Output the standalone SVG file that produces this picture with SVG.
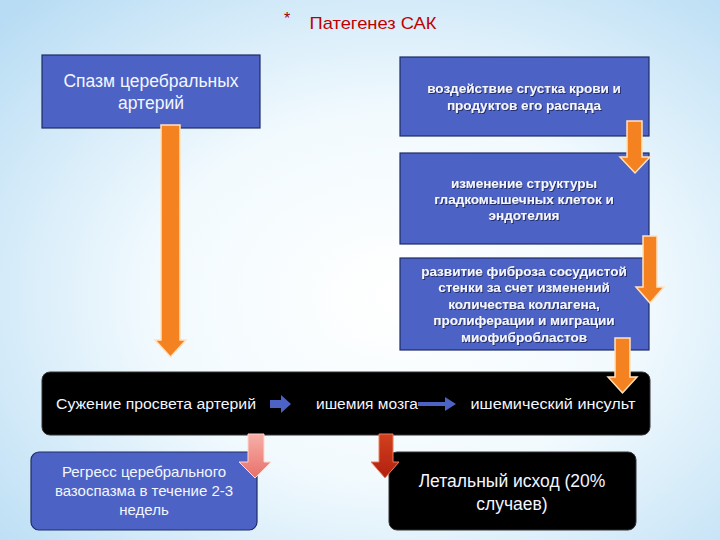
<svg xmlns="http://www.w3.org/2000/svg" width="720" height="540" viewBox="0 0 720 540">
<defs>
<radialGradient id="bg" cx="0.55" cy="0.55" r="0.75">
<stop offset="0" stop-color="#ffffff"/>
<stop offset="0.45" stop-color="#f2fafe"/>
<stop offset="1" stop-color="#b8dcf4"/>
</radialGradient>
<linearGradient id="pink" x1="0" y1="0" x2="0" y2="1">
<stop offset="0" stop-color="#f7b0a8"/>
<stop offset="1" stop-color="#e8706a"/>
</linearGradient>
<linearGradient id="red" x1="0" y1="0" x2="0" y2="1">
<stop offset="0" stop-color="#d2401e"/>
<stop offset="1" stop-color="#b0200e"/>
</linearGradient>
<filter id="sh" x="-5%" y="-5%" width="110%" height="120%">
<feDropShadow dx="1" dy="1" stdDeviation="0.6" flood-color="#1a2050" flood-opacity="0.8"/>
</filter>
</defs>
<style>
text{font-family:"Liberation Sans","DejaVu Sans",sans-serif;fill:#f4f6ff;text-anchor:middle}
.blue{fill:#4c62c4;stroke:#1e2c66;stroke-width:1.2}
.black{fill:#000000;stroke:#333;stroke-width:1}
.orange{fill:#f58220;stroke:#ffe2c0;stroke-width:1.5}
.small{font-size:13.5px;font-weight:bold}
.mid{font-size:15.5px}
.big{font-size:17.5px}
.low{font-size:15px}
.bararrow{fill:#4c62c4}
</style>
<rect width="720" height="540" fill="url(#bg)"/>

<g id="title">
<text x="287" y="24" style="font-size:16px;fill:#a00000">*</text>
<text x="373" y="29" style="font-size:17px;fill:#c00000" textLength="127" lengthAdjust="spacingAndGlyphs">Патегенез САК</text>
</g>

<g id="n1">
<rect class="blue" x="42" y="55" width="218" height="73"/>
<text class="big" x="151" y="87">Спазм церебральных</text>
<text class="big" x="151" y="109">артерий</text>
</g>

<g id="n2">
<rect class="blue" x="400" y="57" width="249" height="79"/>
<text class="small" x="524" y="93" filter="url(#sh)">воздействие сгустка крови и</text>
<text class="small" x="524" y="110" filter="url(#sh)">продуктов его распада</text>
</g>

<g id="n3">
<rect class="blue" x="400" y="153" width="249" height="91"/>
<text class="small" x="524" y="188" filter="url(#sh)">изменение структуры</text>
<text class="small" x="524" y="204" filter="url(#sh)">гладкомышечных клеток и</text>
<text class="small" x="524" y="220" filter="url(#sh)">эндотелия</text>
</g>

<g id="n4">
<rect class="blue" x="400" y="258" width="249" height="92"/>
<text class="small" x="524" y="276" filter="url(#sh)">развитие фиброза сосудистой</text>
<text class="small" x="524" y="292" filter="url(#sh)">стенки за счет изменений</text>
<text class="small" x="524" y="309" filter="url(#sh)">количества коллагена,</text>
<text class="small" x="524" y="325" filter="url(#sh)">пролиферации и миграции</text>
<text class="small" x="524" y="342" filter="url(#sh)">миофибробластов</text>
</g>

<g id="bar">
<rect class="black" x="42" y="372" width="608" height="63" rx="8"/>
<text class="mid" x="156" y="409" textLength="200" lengthAdjust="spacingAndGlyphs">Сужение просвета артерий</text>
<path class="bararrow" d="M270,400 H281 V395 L291,404 L281,413 V408 H270 Z"/>
<text class="mid" x="367" y="409" textLength="102" lengthAdjust="spacingAndGlyphs">ишемия мозга</text>
<path class="bararrow" d="M418,402 H445 V397 L456,404 L445,411 V406 H418 Z"/>
<text class="mid" x="553" y="409" textLength="165" lengthAdjust="spacingAndGlyphs">ишемический инсульт</text>
</g>

<g id="n5">
<rect class="blue" x="31" y="452" width="226" height="78" rx="8"/>
<text class="low" x="144" y="477">Регресс церебрального</text>
<text class="low" x="144" y="496">вазоспазма в течение 2-3</text>
<text class="low" x="144" y="515">недель</text>
</g>

<g id="n6">
<rect class="black" x="389" y="452" width="247" height="78" rx="8"/>
<text style="font-size:17.5px" x="512" y="487">Летальный исход (20%</text>
<text style="font-size:17.5px" x="512" y="510">случаев)</text>
</g>

<g id="connectors">
<path class="orange" d="M161,125 H180 V340 H186 L170.5,357 L155,340 H161 Z"/>
<path class="orange" d="M627,121 H642 V157 H650 L635,173 L620,157 H627 Z"/>
<path class="orange" d="M643,236 H657 V287 H664 L650,303 L636,287 H643 Z"/>
<path class="orange" d="M615,338 H630 V377 H637 L622.5,393 L608,377 H615 Z"/>
<path fill="url(#pink)" stroke="#ffd8d0" stroke-width="1" d="M248,434 H264 V462 H271 L255,478 L239,462 H248 Z"/>
<path fill="url(#red)" stroke="#e88060" stroke-width="1" d="M379,434 H393 V462 H399 L385,478 L371,462 H379 Z"/>
</g>
</svg>
